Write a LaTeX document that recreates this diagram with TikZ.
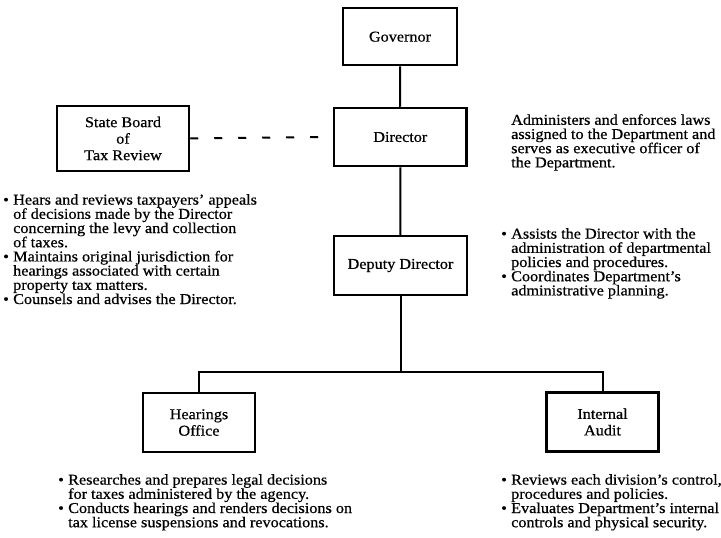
\documentclass[tikz,border=0pt]{standalone}
\usepackage{fontspec}
\setmainfont{Liberation Serif}[FakeStretch=1.08,FakeBold=0.6]
\newcommand{\bitem}{\makebox[10pt][l]{\textbullet}}
\newcommand{\bcont}{\hspace*{10pt}}
\begin{document}
\begin{tikzpicture}[x=1pt,y=-1pt,
  orgbox/.style={draw, line width=2.5pt, align=center, inner sep=0pt,
    font=\fontsize{15}{16.5}\selectfont},
  note/.style={anchor=north west, align=left, inner sep=0pt,
    font=\fontsize{15}{14.2}\selectfont},
  link/.style={line width=2pt},
  dotlink/.style={line width=2pt, dash pattern=on 8pt off 16pt}]
\useasboundingbox (0,0) rectangle (721,538);

% boxes
\node[orgbox, minimum width=114pt, minimum height=57pt] (gov) at (400,36.7) {Governor};
\node[orgbox, minimum width=132.7pt, minimum height=58pt] (dir) at (400.3,137) {Director};
\node[orgbox, minimum width=132pt, minimum height=65pt] (board) at (123,138.5) {State Board\\of\\Tax Review};
\node[orgbox, minimum width=133pt, minimum height=59pt] (dep) at (400.5,265.5) {Deputy Director};
\node[orgbox, minimum width=112pt, minimum height=59pt] (hear) at (199,422.5) {Hearings\\Office};
\node[orgbox, minimum width=112pt, minimum height=59pt] (audit) at (602.5,422) {Internal\\Audit};

% connectors
\coordinate (split) at (400.5,371.7);
\draw[link] (gov) -- (dir);
\draw[link] (dir) -- (dep);
\draw[dotlink] (board.east) -- (dir.west);
\draw[link] (dep.south) -- (split);
\draw[link] (hear.north) |- (split) -| (audit.north);

% descriptions
\node[note] (dirnote) at (511,114) {Administers and enforces laws\\assigned to the Department and\\serves as executive officer of\\the Department.};
\node[note] (boardnote) at (3,194) {\bitem Hears and reviews taxpayers' appeals\\\bcont of decisions made by the Director\\\bcont concerning the levy and collection\\\bcont of taxes.\\\bitem Maintains original jurisdiction for\\\bcont hearings associated with certain\\\bcont property tax matters.\\\bitem Counsels and advises the Director.};
\node[note] (depnote) at (501,228) {\bitem Assists the Director with the\\\bcont administration of departmental\\\bcont policies and procedures.\\\bitem Coordinates Department's\\\bcont administrative planning.};
\node[note] (hearnote) at (58,474) {\bitem Researches and prepares legal decisions\\\bcont for taxes administered by the agency.\\\bitem Conducts hearings and renders decisions on\\\bcont tax license suspensions and revocations.};
\node[note] (auditnote) at (501,474) {\bitem Reviews each division's control,\\\bcont procedures and policies.\\\bitem Evaluates Department's internal\\\bcont controls and physical security.};
\end{tikzpicture}
\end{document}
